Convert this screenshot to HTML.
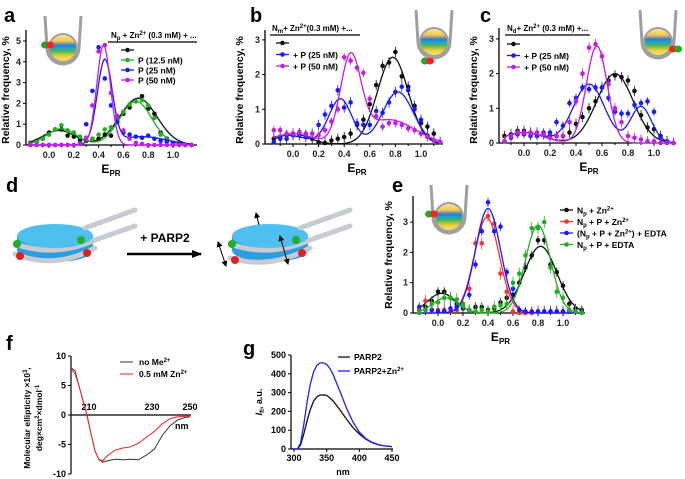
<!DOCTYPE html>
<html><head><meta charset="utf-8"><style>
html,body{margin:0;padding:0;background:#fff;}
svg{display:block;font-family:"Liberation Sans",sans-serif;}
text{font-family:"Liberation Sans",sans-serif;}
</style></head><body>
<svg id="fig" width="685" height="479" viewBox="0 0 685 479" xmlns="http://www.w3.org/2000/svg">
<defs>
<linearGradient id="bands" x1="0" y1="0" x2="0" y2="1">
<stop offset="0" stop-color="#f5e8b0"/><stop offset="0.25" stop-color="#f2c94c"/><stop offset="0.4" stop-color="#2e7bd6"/><stop offset="0.5" stop-color="#22a0d0"/><stop offset="0.62" stop-color="#4cb84c"/><stop offset="0.8" stop-color="#f0d040"/><stop offset="1" stop-color="#f7e37a"/>
</linearGradient>
<marker id="ah" markerUnits="userSpaceOnUse" markerWidth="10" markerHeight="10" refX="9" refY="5" orient="auto"><path d="M0,1 L10,5 L0,9 z" fill="#000"/></marker>
<marker id="sh" markerUnits="userSpaceOnUse" markerWidth="6" markerHeight="6" refX="5" refY="3" orient="auto-start-reverse"><path d="M0,0 L6,3 L0,6 z" fill="#000"/></marker>
</defs>
<g id="root"></g>
</svg>
<script>
// ---------- shared E grid ----------
const E = [-0.15,-0.1,-0.05,0,0.05,0.1,0.15,0.2,0.25,0.3,0.35,0.4,0.45,0.5,0.55,0.6,0.65,0.7,0.75,0.8,0.85,0.9,0.95,1.0,1.05,1.1,1.15];
const xTicksE = ["0.0","0.2","0.4","0.6","0.8","1.0"];
// panel a
const aBlack = [0.1,0.2,0.3,0.6,0.75,0.75,0.45,0.4,0.25,0.2,0.3,0.3,0.5,0.45,1.2,1.5,1.8,2.1,2.35,1.75,1.5,0.6,0.3,0.1,0.05,0,0];
const aGreen = [0.05,0.15,0.3,0.5,0.75,0.95,0.7,0.6,0.4,0.3,0.3,0.5,0.75,0.85,1.25,1.6,1.95,2.1,2.15,1.9,1.3,0.5,0.25,0.1,0.05,0,0];
const aBlue = [0,0,0,0,0,0,0,0,0.1,1.0,2.6,4.7,3.2,1.9,1.1,0.6,0.5,0.4,0.35,0.45,0.3,0.2,0.15,0.1,0.05,0,0];
const aMag = [0,0,0,0,0,0,0,0,0.05,0.35,1.9,4.5,4.8,2.5,1.4,0.7,0.3,0.1,0.05,0,0,0,0,0,0,0,0];
const aFitBlack = [[0.7,0.08,0.13],[2.25,0.72,0.15]];
const aFitGreen = [[0.78,0.1,0.12],[2.1,0.7,0.13]];
const aFitBlue = [[4.0,0.45,0.06],[0.4,0.75,0.2]];
const aFitMag = [[4.8,0.44,0.055]];
const aYTicks = [0,1,2,3,4,5];
// panel b
const bBlack = [0.15,0.2,0.25,0.3,0.3,0.25,0.15,0.05,0.03,0.1,0.15,0.2,0.3,0.55,0.7,1.15,1.7,2.25,2.35,2.65,1.95,1.65,1.1,0.6,0.5,0.3,0.05];
const bBlue = [0.05,0.15,0.15,0.25,0.25,0.2,0.3,0.55,0.85,1.1,1.55,1.05,1.2,0.6,0.55,0.55,0.95,0.9,1.2,1.5,1.65,1.55,1.0,0.7,0.25,0.1,0.05];
const bMag = [0.4,0.4,0.3,0.3,0.35,0.3,0.3,0.25,0.4,0.65,1.0,2.5,2.4,2.2,2.05,1.3,0.8,0.5,0.6,0.6,0.55,0.45,0.4,0.3,0.2,0.1,0.05];
const bFitBlack = [[0.3,0.0,0.12],[2.5,0.78,0.12]];
const bFitBlue = [[0.25,-0.05,0.15],[1.3,0.37,0.09],[1.5,0.82,0.12]];
const bFitMag = [[0.3,0.0,0.15],[2.4,0.45,0.08],[0.7,0.75,0.2]];
const bYTicks = [0,1,2,3];
// panel c
const cBlack = [0.2,0.25,0.35,0.35,0.3,0.3,0.25,0.2,0.2,0.2,0.3,0.55,0.75,1.0,1.2,1.6,1.8,1.95,1.9,1.8,1.5,0.8,0.45,0.4,0.2,0.05,0];
const cBlue = [0.05,0.15,0.25,0.25,0.2,0.2,0.3,0.3,0.6,0.5,1.15,1.3,1.6,1.55,1.6,1.6,1.3,0.9,0.85,0.85,1.1,1.15,1.2,0.9,0.15,0.05,0];
const cMag = [0.05,0.2,0.3,0.3,0.3,0.3,0.25,0.15,0.2,0.2,0.6,1.2,2.0,2.75,2.85,2.5,1.7,1.0,0.6,0.2,0.15,0.1,0.05,0.05,0,0,0];
const cFitBlack = [[0.3,0.0,0.15],[2.0,0.7,0.14]];
const cFitBlue = [[0.3,0,0.15],[1.7,0.5,0.12],[1.05,0.9,0.08]];
const cFitMag = [[0.3,0,0.15],[2.8,0.56,0.08]];
const cYTicks = [0,1,2,3];
// panel e
const eBlack = [0.1,0.2,0.4,0.7,0.7,0.5,0.3,0.15,0.1,0.2,0.2,0.1,0.15,0.35,0.5,0.6,1.0,1.5,1.9,2.4,2.4,1.6,1.35,0.9,0.3,0.15,0.1];
const eRed = [0.1,0.4,0.1,0.1,0.1,0.05,0.1,0.3,0.8,2.3,2.3,3.2,2.95,1.3,0.7,0.05,0,0,0,0.05,0.05,0.05,0.05,0.05,0.05,0.05,0.05];
const eBlue = [0.2,0.1,0.1,0.05,0.05,0.15,0.2,0.2,0.6,1.6,2.7,3.65,2.7,2.85,1.35,0.8,0.1,0.05,0.05,0.05,0.05,0.05,0.05,0.05,0.05,0.05,0.05];
const eGreen = [0,0.1,0.3,0.35,0.5,0.5,0.45,0.25,0.1,0.05,0.1,0.05,0.2,0.25,0.3,1.0,1.3,1.9,2.8,2.8,3.0,1.5,0.7,0.5,0.1,0.05,0];
const eFitBlack = [[0.65,0.03,0.11],[2.2,0.82,0.13]];
const eFitRed = [[3.15,0.39,0.1]];
const eFitBlue = [[3.45,0.4,0.1]];
const eFitGreen = [[0.5,0.06,0.1],[2.9,0.8,0.1]];
const eYTicks = [0,1,2,3];
// panel f
const fNm = [190,192,194,196,198,200,202,204,206,208,212,216,220,224,228,232,236,240,244,248,250];
const fBlack = [8,7.5,5,2.5,0,-3,-6,-7.5,-8,-7.8,-7.5,-7.6,-7.5,-7.6,-6.8,-5.8,-3.5,-1.8,-0.8,-0.4,-0.3];
const fRed = [7.8,7,5,2.5,0,-3,-6,-7.5,-7.8,-7,-6,-5.6,-5.4,-4.8,-3.8,-2.8,-1.5,-0.6,-0.3,-0.2,-0.2];
const fYTicks = [10,5,0,-5,-10];
const fXTicks = ["210","230","250"];
// panel g
const gNm = [300,305,310,315,320,325,330,335,340,345,350,355,360,370,380,390,400,410,420,430,440,450];
const gBlack = [0,0,20,80,150,210,255,278,287,288,285,272,255,210,160,115,80,52,33,22,16,13];
const gBlue = [0,0,30,130,250,345,410,445,458,458,450,428,395,310,220,145,90,55,35,22,16,13];
const gYTicks = [0,100,200,300,400,500];
const gXTicks = [300,350,400,450];

const NS="http://www.w3.org/2000/svg";
const root=document.getElementById('root');
function mk(tag,attrs,parent,txt){const e=document.createElementNS(NS,tag);for(const k in attrs)e.setAttribute(k,attrs[k]);if(txt!==undefined)e.innerHTML=txt;(parent||root).appendChild(e);return e;}
function gsum(p,x){let s=0;for(const g of p)s+=g[0]*Math.exp(-((x-g[1])**2)/(2*g[2]*g[2]));return s;}

const COL={k:"#111",g:"#22b022",b:"#1a1aff",m:"#c020e0",r:"#ff3030"};

function panelE(o){
  const g=mk('g',{});
  
  
  const X=v=>o.x0+v*o.sx, Y=v=>o.y0-v*o.sy;
  const ax=mk('line',{x1:o.ax0,y1:o.y0,x2:o.ax1,y2:o.y0,stroke:'#000','stroke-width':1.3},g);
  
  const ay=mk('line',{x1:o.ax0,y1:o.y0,x2:o.ax0,y2:o.ytop,stroke:'#000','stroke-width':1.3},g);
  
  for(let i=0;i<xTicksE.length;i++){const v=parseFloat(xTicksE[i]);
    mk('line',{x1:X(v),y1:o.y0,x2:X(v),y2:o.y0+3,stroke:'#000'},g);
    const t=mk('text',{x:X(v),y:o.y0+13,'font-size':9,'font-weight':'bold','text-anchor':'middle',fill:'#222'},g,xTicksE[i]);
    }
  for(let v=-0.1;v<1.2;v+=0.2){mk('line',{x1:X(v),y1:o.y0,x2:X(v),y2:o.y0+2,stroke:'#000'},g);}
  for(const v of o.yt){mk('line',{x1:o.ax0-3,y1:Y(v),x2:o.ax0,y2:Y(v),stroke:'#000'},g);
    const t=mk('text',{x:o.ax0-5,y:Y(v)+3,'font-size':9,'font-weight':'bold','text-anchor':'end',fill:'#222'},g,v);
    }
  const xt=mk('text',{x:X(0.5),y:o.y0+28,'font-size':12,'font-weight':'bold','text-anchor':'middle'},g,'E<tspan font-size="8" dy="3">PR</tspan>');
  
  const yt=mk('text',{transform:`translate(${o.ytx},${o.ytc}) rotate(-90)`,'font-size':10.5,'font-weight':'bold','text-anchor':'middle'},g,'Relative frequency, %');
  
  for(const s of o.series){
    let d='';for(let i=0;i<=130;i++){const v=-0.15+i*0.01;d+=(i?'L':'M')+X(v).toFixed(1)+','+Y(gsum(s.fit,v)).toFixed(1);}
    const p=mk('path',{d:d,fill:'none',stroke:s.c,'stroke-width':1.3},g);
    
    for(let i=0;i<E.length;i++){
      if(s.err){mk('line',{x1:X(E[i]),x2:X(E[i]),y1:Y(s.v[i]+s.err),y2:Y(Math.max(0,s.v[i]-s.err)),stroke:s.c,'stroke-width':0.8},g);}
      const c=mk('circle',{cx:X(E[i]),cy:Y(s.v[i]),r:2.3,fill:s.c},g);
      }
  }
  return g;
}
function legend(items,lx,ty,fs){
  items.forEach((it,i)=>{const y=ty+i*it.dy;
    const g=mk('g',{});
    mk('line',{x1:lx,y1:y,x2:lx+13,y2:y,stroke:it.c,'stroke-width':1.3},g);
    mk('circle',{cx:lx+6.5,cy:y,r:2.3,fill:it.c},g);
    if(it.t)mk('text',{x:lx+17,y:y+3.5,'font-size':fs,'font-weight':'bold'},g,it.t);});
}
function cuvette(x,y,dots,dotPos){
  const g=mk('g',{});
  mk('path',{d:`M${x},${y} L${x+2},${y+32} A16,16 0 0 0 ${x+34},${y+32} L${x+36},${y}`,fill:'none',stroke:'#a0a0a0','stroke-width':3},g);
  mk('circle',{cx:x+18,cy:y+32,r:14,fill:'url(#bands)',stroke:'#a0a0a0','stroke-width':2},g);
  dots.forEach((c,i)=>mk('ellipse',{cx:dotPos[0]+i*5,cy:dotPos[1],rx:4,ry:3.5,fill:c},g));
}
function label(t,x,y){const e=mk('text',{x:x,y:y,'font-size':20,'font-weight':'bold'},root,t);}

// ---- panel a ----
panelE({name:'panel-a-chart',x0:49,sx:124,y0:145,sy:20.8,ax0:26,ax1:197,ytop:30,yt:aYTicks,ytx:9,ytc:90,series:[
 {n:'np-zn',c:COL.k,v:aBlack,fit:aFitBlack},{n:'p-12-5',c:COL.g,v:aGreen,fit:aFitGreen},
 {n:'p-25',c:COL.b,v:aBlue,fit:aFitBlue},{n:'p-50',c:COL.m,v:aMag,fit:aFitMag}]});
mk('text',{x:111,y:38,'font-size':8,'font-weight':'bold'},root,'N<tspan font-size="6" dy="2">p</tspan><tspan dy="-2"> + Zn</tspan><tspan font-size="6" dy="-3">2+</tspan><tspan dy="3"> (0.3 mM) + ...</tspan>');
mk('line',{x1:108,y1:42,x2:197,y2:42,stroke:'#000','stroke-width':1.2});
legend([{c:COL.k,dy:10},{c:COL.g,t:'P (12.5 nM)',dy:10},{c:COL.b,t:'P (25 nM)',dy:10},{c:COL.m,t:'P (50 nM)',dy:10}],121,50,8.5);
cuvette(45,16,['#22aa22','#ff2020'],[45,45]);

// ---- panel b ----
panelE({name:'panel-b-chart',x0:293,sx:128,y0:144,sy:34.7,ax0:265,ax1:443,ytop:30,yt:bYTicks,ytx:243,ytc:90,series:[
 {n:'nm-zn',c:COL.k,v:bBlack,fit:bFitBlack,err:0.15},{n:'p-25',c:COL.b,v:bBlue,fit:bFitBlue,err:0.15},{n:'p-50',c:COL.m,v:bMag,fit:bFitMag,err:0.12}]});
mk('text',{x:272,y:31,'font-size':8,'font-weight':'bold'},root,'N<tspan font-size="6" dy="2">m</tspan><tspan dy="-2">+ Zn</tspan><tspan font-size="6" dy="-3">2+</tspan><tspan dy="3">(0.3 mM) +...</tspan>');
mk('line',{x1:270,y1:35,x2:360,y2:35,stroke:'#000','stroke-width':1.2});
legend([{c:COL.k,dy:11.5},{c:COL.b,t:'+ P (25 nM)',dy:11.5},{c:COL.m,t:'+ P (50 nM)',dy:11.5}],276,43,8.5);
cuvette(416,10,['#22aa22','#ff2020'],[425,61]);

// ---- panel c ----
panelE({name:'panel-c-chart',x0:524,sx:130,y0:143,sy:34.7,ax0:499,ax1:675,ytop:28,yt:cYTicks,ytx:477,ytc:90,series:[
 {n:'nd-zn',c:COL.k,v:cBlack,fit:cFitBlack,err:0.15},{n:'p-25',c:COL.b,v:cBlue,fit:cFitBlue,err:0.12},{n:'p-50',c:COL.m,v:cMag,fit:cFitMag,err:0.15}]});
mk('text',{x:507,y:31,'font-size':8,'font-weight':'bold'},root,'N<tspan font-size="6" dy="2">d</tspan><tspan dy="-2">+ Zn</tspan><tspan font-size="6" dy="-3">2+</tspan><tspan dy="3"> (0.3 mM) +...</tspan>');
mk('line',{x1:505,y1:35,x2:590,y2:35,stroke:'#000','stroke-width':1.2});
legend([{c:COL.k,dy:11.5},{c:COL.b,t:'+ P (25 nM)',dy:11.5},{c:COL.m,t:'+ P (50 nM)',dy:11.5}],507,44,8.5);
cuvette(640,10,['#ff2020','#22aa22'],[673,49]);

// ---- panel e ----
panelE({name:'panel-e-chart',x0:438,sx:125,y0:313,sy:30.3,ax0:413,ax1:585,ytop:196,yt:eYTicks,ytx:392,ytc:255,series:[
 {n:'np-zn',c:COL.k,v:eBlack,fit:eFitBlack,err:0.15},{n:'np-p-zn',c:COL.r,v:eRed,fit:eFitRed,err:0.2},
 {n:'np-p-zn-edta',c:COL.b,v:eBlue,fit:eFitBlue,err:0.15},{n:'np-p-edta',c:COL.g,v:eGreen,fit:eFitGreen,err:0.2}]});
legend([{c:COL.k,t:'N<tspan font-size="6" dy="2">p</tspan><tspan dy="-2"> + Zn</tspan><tspan font-size="6" dy="-3">2+</tspan>',dy:11.5},
 {c:COL.r,t:'N<tspan font-size="6" dy="2">p</tspan><tspan dy="-2"> + P + Zn</tspan><tspan font-size="6" dy="-3">2+</tspan>',dy:11.5},
 {c:COL.b,t:'(N<tspan font-size="6" dy="2">p</tspan><tspan dy="-2"> + P + Zn</tspan><tspan font-size="6" dy="-3">2+</tspan><tspan dy="3">) + EDTA</tspan>',dy:11.5},
 {c:COL.g,t:'N<tspan font-size="6" dy="2">p</tspan><tspan dy="-2"> + P + EDTA</tspan>',dy:11.5}],560,210,8.5);
cuvette(431,185,['#22aa22','#ff2020'],[429,214]);

// ---- panel f ----
(function(){
 const g=mk('g',{});
 const X=v=>71+(v-190)*119/60, Y=v=>415-v*5.9;
 mk('line',{x1:71,y1:Y(10),x2:71,y2:Y(-10),stroke:'#000','stroke-width':1.2},g);
 mk('line',{x1:71,y1:Y(0),x2:191,y2:Y(0),stroke:'#000','stroke-width':1.2},g);
 for(const v of fYTicks){mk('line',{x1:68,y1:Y(v),x2:71,y2:Y(v),stroke:'#000'},g);
   const t=mk('text',{x:66,y:Y(v)+3,'font-size':9,'font-weight':'bold','text-anchor':'end'},g,v);
   }
 const xpos=[89,152,190];
 fXTicks.forEach((s,i)=>{const t=mk('text',{x:xpos[i],y:Y(0)-5,'font-size':9,'font-weight':'bold','text-anchor':'middle'},g,s);
   });
 mk('text',{x:175,y:429,'font-size':9,'font-weight':'bold'},g,'nm');
 const y1=mk('text',{transform:'translate(30,418) rotate(-90)','font-size':8.5,'font-weight':'bold','text-anchor':'middle'},g,'Molecular ellipticity  ×10<tspan font-size="6" dy="-3">3</tspan><tspan dy="3">,</tspan>');
 
 mk('text',{transform:'translate(42,418) rotate(-90)','font-size':8.5,'font-weight':'bold','text-anchor':'middle'},g,'deg×cm<tspan font-size="6" dy="-3">2</tspan><tspan dy="3">×dmol</tspan><tspan font-size="6" dy="-3">-1</tspan>');
 [[fBlack,'#333','no-me-line'],[fRed,'#ff2020','zn-line']].forEach(([arr,c,n])=>{
   let d='';arr.forEach((v,i)=>{d+=(i?'L':'M')+X(fNm[i]).toFixed(1)+','+Y(v).toFixed(1);});
   const p=mk('path',{d:d,fill:'none',stroke:c,'stroke-width':1},g);});
 mk('line',{x1:120,y1:362,x2:133,y2:362,stroke:'#333'},g);
 mk('text',{x:139,y:365,'font-size':8.5,'font-weight':'bold'},g,'no Me<tspan font-size="6" dy="-3">2+</tspan>');
 mk('line',{x1:120,y1:374,x2:133,y2:374,stroke:'#ff2020'},g);
 mk('text',{x:139,y:377,'font-size':8.5,'font-weight':'bold'},g,'0.5 mM Zn<tspan font-size="6" dy="-3">2+</tspan>');
})();

// ---- panel g ----
(function(){
 const g=mk('g',{});
 const X=v=>294+(v-300)*98/150, Y=v=>449-v*0.188;
 mk('line',{x1:291,y1:Y(500),x2:291,y2:Y(0),stroke:'#000','stroke-width':1.2},g);
 mk('line',{x1:291,y1:Y(0),x2:393,y2:Y(0),stroke:'#000','stroke-width':1.2},g);
 for(const v of gYTicks){mk('line',{x1:288,y1:Y(v),x2:291,y2:Y(v),stroke:'#000'},g);
   const t=mk('text',{x:286,y:Y(v)+3,'font-size':9,'font-weight':'bold','text-anchor':'end'},g,v);
   }
 for(const v of gXTicks){mk('line',{x1:X(v),y1:Y(0),x2:X(v),y2:Y(0)+3,stroke:'#000'},g);
   const t=mk('text',{x:X(v),y:461,'font-size':9,'font-weight':'bold','text-anchor':'middle'},g,v);
   }
 mk('text',{x:X(375),y:475,'font-size':9,'font-weight':'bold','text-anchor':'middle'},g,'nm');
 const yt=mk('text',{transform:'translate(262,402) rotate(-90)','font-size':9,'font-weight':'bold','text-anchor':'middle'},g,'<tspan font-style="italic">I</tspan><tspan font-size="6" dy="2">fl</tspan><tspan dy="-2">, a.u.</tspan>');
 
 [[gBlack,'#111','parp2-line'],[gBlue,'#2020ff','parp2-zn-line']].forEach(([arr,c,n])=>{
   let d='';arr.forEach((v,i)=>{d+=(i?'L':'M')+X(gNm[i]).toFixed(1)+','+Y(v).toFixed(1);});
   const p=mk('path',{d:d,fill:'none',stroke:c,'stroke-width':1.3},g);});
 mk('line',{x1:338,y1:357,x2:350,y2:357,stroke:'#111','stroke-width':1.3},g);
 mk('text',{x:354,y:360,'font-size':8.5,'font-weight':'bold'},g,'PARP2');
 mk('line',{x1:338,y1:371,x2:350,y2:371,stroke:'#2020ff','stroke-width':1.3},g);
 mk('text',{x:354,y:374,'font-size':8.5,'font-weight':'bold'},g,'PARP2+Zn<tspan font-size="6" dy="-3">2+</tspan>');
})();

// ---- panel d cartoon ----
function nuc(cx,cy,open){
 const g=mk('g',{});
 mk('ellipse',{cx:cx,cy:cy+14,rx:38,ry:12,fill:'#2a9ee0'},g);
 mk('rect',{x:cx-38,y:cy,width:76,height:14,fill:'#2a9ee0'},g);
 mk('path',{d:`M${cx-40},${cy+8} Q${cx},${cy+22} ${cx+40},${cy+4} L${cx+80},${cy-10}`,fill:'none',stroke:'#c8ccd2','stroke-width':5,'stroke-linecap':'round'},g);
 mk('ellipse',{cx:cx,cy:cy,rx:38,ry:12,fill:'#4ec0f0'},g);
 mk('path',{d:`M${cx-40},${cy+(open?22:18)} Q${cx},${cy+34} ${cx+40},${cy+12}`,fill:'none',stroke:'#c8ccd2','stroke-width':5,'stroke-linecap':'round'},g);
 mk('path',{d:`M${cx+30},${cy-8} L${cx+80},${cy-26}`,fill:'none',stroke:'#c8ccd2','stroke-width':5,'stroke-linecap':'round'},g);
 mk('circle',{cx:cx-38,cy:cy+8,r:4,fill:'#22b022'},g);
 mk('circle',{cx:cx+26,cy:cy+4,r:4,fill:'#22b022'},g);
 mk('circle',{cx:cx-35,cy:cy+(open?24:20),r:4,fill:'#e02020'},g);
 mk('circle',{cx:cx+32,cy:cy+17,r:4,fill:'#e02020'},g);
}
nuc(55,236,false);nuc(270,236,true);
const ar=mk('line',{x1:127,y1:254,x2:201,y2:254,stroke:'#000','stroke-width':2.5,'marker-end':'url(#ah)'});

const pt=mk('text',{x:165,y:242,'font-size':12,'font-weight':'bold','text-anchor':'middle'},root,'+ PARP2');

mk('line',{x1:218,y1:242,x2:226,y2:266,stroke:'#000','marker-start':'url(#sh)','marker-end':'url(#sh)'});
mk('line',{x1:280,y1:236,x2:288,y2:264,stroke:'#000','marker-start':'url(#sh)','marker-end':'url(#sh)'});
mk('line',{x1:259,y1:225,x2:256,y2:213,stroke:'#000','marker-end':'url(#sh)'});

label('a',4,22);label('b',250,22);label('c',480,22);label('d',6,192);label('e',392,192);label('f',6,350);label('g',243,355);
</script>
</body></html>
